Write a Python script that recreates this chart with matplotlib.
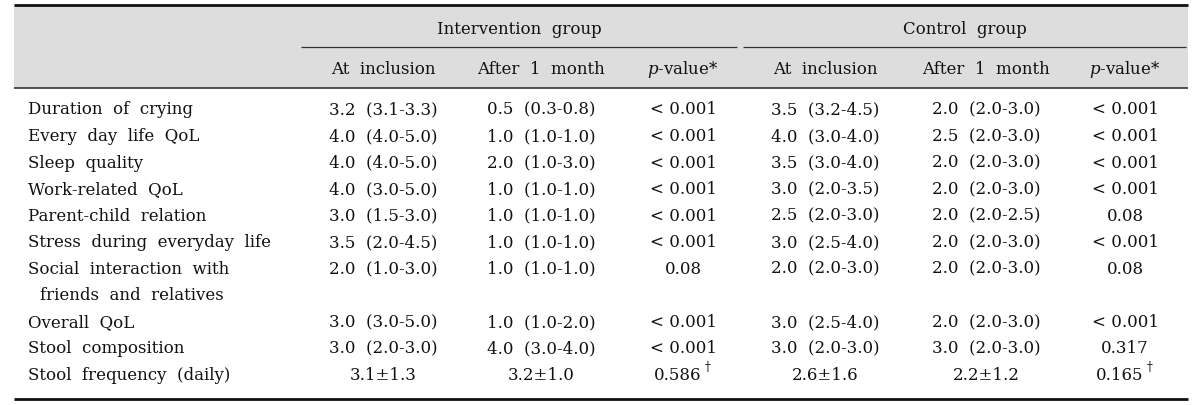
import matplotlib
matplotlib.use("Agg")
import matplotlib.pyplot as plt

# ---- data ----
row_labels = [
    "Duration of crying",
    "Every day life QoL",
    "Sleep quality",
    "Work-related QoL",
    "Parent-child relation",
    "Stress during everyday life",
    "Social interaction with\nfriends and relatives",
    "Overall QoL",
    "Stool composition",
    "Stool frequency (daily)",
]
interv_incl = ["3.2 (3.1-3.3)", "4.0 (4.0-5.0)", "4.0 (4.0-5.0)", "4.0 (3.0-5.0)", "3.0 (1.5-3.0)",
               "3.5 (2.0-4.5)", "2.0 (1.0-3.0)", "3.0 (3.0-5.0)", "3.0 (2.0-3.0)", "3.1±1.3"]
interv_after = ["0.5 (0.3-0.8)", "1.0 (1.0-1.0)", "2.0 (1.0-3.0)", "1.0 (1.0-1.0)", "1.0 (1.0-1.0)",
                "1.0 (1.0-1.0)", "1.0 (1.0-1.0)", "1.0 (1.0-2.0)", "4.0 (3.0-4.0)", "3.2±1.0"]
interv_p = ["<0.001", "<0.001", "<0.001", "<0.001", "<0.001", "<0.001", "0.08", "<0.001", "<0.001", "0.586†"]
ctrl_incl = ["3.5 (3.2-4.5)", "4.0 (3.0-4.0)", "3.5 (3.0-4.0)", "3.0 (2.0-3.5)", "2.5 (2.0-3.0)",
             "3.0 (2.5-4.0)", "2.0 (2.0-3.0)", "3.0 (2.5-4.0)", "3.0 (2.0-3.0)", "2.6±1.6"]
ctrl_after = ["2.0 (2.0-3.0)", "2.5 (2.0-3.0)", "2.0 (2.0-3.0)", "2.0 (2.0-3.0)", "2.0 (2.0-2.5)",
              "2.0 (2.0-3.0)", "2.0 (2.0-3.0)", "2.0 (2.0-3.0)", "3.0 (2.0-3.0)", "2.2±1.2"]
ctrl_p = ["<0.001", "<0.001", "<0.001", "<0.001", "0.08", "<0.001", "0.08", "<0.001", "0.317", "0.165†"]
group_labels = ["Intervention group", "Control group"]
sub_labels = ["At inclusion", "After 1 month", "p-value*"]

# ---- layout ----
W, H = 1200, 406
fig = plt.figure(figsize=(W / 100, H / 100), dpi=100)
ax = fig.add_axes([0, 0, 1, 1])
ax.set_xlim(0, W)
ax.set_ylim(H, 0)
ax.axis("off")

FONT = ["DejaVu Serif"]
FS = 12
TC = "#111111"
plt.rcParams["mathtext.fontset"] = "custom"
plt.rcParams["mathtext.it"] = "DejaVu Serif:italic"
plt.rcParams["mathtext.rm"] = "DejaVu Serif"

x0, x1 = 14, 1188
y_top, y_hdr = 6, 89
ax.fill_between([x0, x1], y_top, y_hdr, color="#dddddd", lw=0, zorder=0)
ax.plot([x0, x1], [y_top, y_top], color="#111111", lw=2.0, solid_capstyle="butt")
ax.plot([x0, x1], [y_hdr, y_hdr], color="#333333", lw=1.2, solid_capstyle="butt")
ax.plot([x0, x1], [400, 400], color="#111111", lw=2.0, solid_capstyle="butt")

grp_spans = [(301, 737), (743, 1186)]
for (a, b), g in zip(grp_spans, group_labels):
    ax.plot([a, b], [48, 48], color="#333333", lw=0.9, solid_capstyle="butt")
    ax.text((a + b) / 2, 29, g.replace(" ", "  "), ha="center", va="center", fontsize=FS, family=FONT, color=TC)

col_x = [383, 541, 683, 825, 986, 1125]
for i, cx in enumerate(col_x):
    lab = sub_labels[i % 3]
    if lab.startswith("p-"):
        lab = r"$\mathit{p}$-value*"
    else:
        lab = lab.replace(" ", "  ")
    ax.text(cx, 70, lab, ha="center", va="center", fontsize=FS, family=FONT, color=TC)


def draw_p(cx, y, s):
    dagger = s.endswith("†")
    core = s.rstrip("†")
    if core.startswith("<"):
        core = "< " + core[1:]
    shift = -5 if dagger else 0
    t = ax.text(cx + shift, y, core, ha="center", va="center", fontsize=FS, family=FONT, color=TC)
    if dagger:
        fig.canvas.draw()
        bb = t.get_window_extent()
        xr = ax.transData.inverted().transform((bb.x1, bb.y1))[0]
        ax.text(xr + 3, y - 8, "†", ha="left", va="center", fontsize=FS * 0.7, family=FONT, color=TC)


y0, dy = 110, 26.55
line = 0
for r, lab in enumerate(row_labels):
    y = y0 + dy * line
    parts = lab.split("\n")
    for k, p in enumerate(parts):
        ax.text(28 if k == 0 else 40, y + dy * k, p.replace(" ", "  "),
                ha="left", va="center", fontsize=FS, family=FONT, color=TC)
    vals = [interv_incl[r], interv_after[r], None, ctrl_incl[r], ctrl_after[r], None]
    for cx, v in zip(col_x, vals):
        if v is not None:
            ax.text(cx, y, v.replace(" (", "  ("), ha="center", va="center", fontsize=FS, family=FONT, color=TC)
    draw_p(col_x[2], y, interv_p[r])
    draw_p(col_x[5], y, ctrl_p[r])
    line += len(parts)

fig.savefig("out.png", dpi=100)
